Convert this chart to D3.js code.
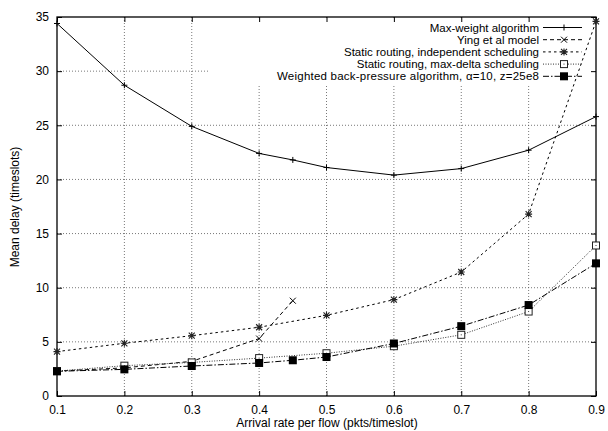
<!DOCTYPE html>
<html><head><meta charset="utf-8">
<script src="https://cdn.jsdelivr.net/npm/d3@7/dist/d3.min.js"></script>
<style>body{margin:0;background:#fff}svg{display:block}text{font-family:"Liberation Sans",Arial,sans-serif;fill:#000}</style>
</head><body><svg id="c" width="608" height="431"></svg>
<script>
const xTicks = [0.1,0.2,0.3,0.4,0.5,0.6,0.7,0.8,0.9];
const yTicks = [0,5,10,15,20,25,30,35];
const xMaxWeight = [0.1,0.2,0.3,0.4,0.45,0.5,0.6,0.7,0.8,0.9];
const maxWeight = [34.4,28.7,24.9,22.4,21.8,21.1,20.4,21.0,22.7,25.8];
const xYing = [0.1,0.2,0.3,0.4,0.45];
const ying = [2.3,2.6,3.2,5.3,8.8];
const xStatic = [0.1,0.2,0.3,0.4,0.5,0.6,0.7,0.8,0.9];
const staticIndep = [4.1,4.87,5.57,6.35,7.45,8.9,11.45,16.8,34.6];
const staticMaxDelta = [2.3,2.8,3.1,3.5,3.95,4.6,5.65,7.8,13.9];
const xWeighted = [0.1,0.2,0.3,0.4,0.45,0.5,0.6,0.7,0.8,0.9];
const weighted = [2.28,2.46,2.77,3.05,3.3,3.6,4.85,6.45,8.4,12.25];
const names = ["Max-weight algorithm","Ying et al model","Static routing, independent scheduling","Static routing, max-delta scheduling","Weighted back-pressure algorithm, \u03b1=10, z=25e8"];

const FS = 12, LFS = 11.5;
const svg = d3.select("#c");
const L=57,R=596,T=17,B=396;
const x = d3.scaleLinear().domain([0.1,0.9]).range([L,R]);
const y = d3.scaleLinear().domain([0,35]).range([B,T]);

// grid
const g = svg.append("g");
g.selectAll(".gx").data(xTicks.slice(1,-1)).enter().append("line")
 .attr("x1",d=>x(d)).attr("x2",d=>x(d)).attr("y1",B).attr("y2",T)
 .attr("stroke","#555").attr("stroke-width",0.8).attr("stroke-dasharray","1,2");
g.selectAll(".gy").data(yTicks.slice(1,-1)).enter().append("line")
 .attr("x1",L).attr("x2",R).attr("y1",d=>y(d)).attr("y2",d=>y(d))
 .attr("stroke","#555").attr("stroke-width",0.8).attr("stroke-dasharray","1,2");
// legend background clears grid
svg.append("rect").attr("x",209).attr("y",T+1).attr("width",R-209).attr("height",84-T).attr("fill","#fff");

// axes
const xAxisB = d3.axisBottom(x).tickValues(xTicks).tickFormat(d3.format(".1f")).tickSize(-5).tickPadding(9);
const xAxisT = d3.axisTop(x).tickValues(xTicks).tickFormat("").tickSize(-5);
const yAxisL = d3.axisLeft(y).tickValues(yTicks).tickFormat(d3.format("d")).tickSize(-5).tickPadding(8);
const yAxisR = d3.axisRight(y).tickValues(yTicks).tickFormat("").tickSize(-5);
function styleAx(sel){sel.select(".domain").remove();sel.selectAll("line").attr("stroke","#000");sel.selectAll("text").attr("font-size",FS).attr("font-family",'"Liberation Sans",Arial,sans-serif');}
svg.append("g").attr("transform",`translate(0,${B})`).call(xAxisB).call(styleAx);
svg.append("g").attr("transform",`translate(0,${T})`).call(xAxisT).call(styleAx);
svg.append("g").attr("transform",`translate(${L},0)`).call(yAxisL).call(styleAx);
svg.append("g").attr("transform",`translate(${R},0)`).call(yAxisR).call(styleAx);
svg.append("rect").attr("x",L).attr("y",T).attr("width",R-L).attr("height",B-T).attr("fill","none").attr("stroke","#000").attr("stroke-width",1.3);

// markers
function marker(sel,type,cx,cy){
  const s=sel.append("g").attr("transform",`translate(${cx},${cy})`);
  if(type==="plus"){s.append("path").attr("d","M-3,0H3M0,-3V3").attr("stroke","#000").attr("stroke-width",1);}
  else if(type==="x"){s.append("path").attr("d","M-3,-3L3,3M-3,3L3,-3").attr("stroke","#000").attr("stroke-width",1);}
  else if(type==="star"){s.append("path").attr("d","M-3,-3L3,3M-3,3L3,-3M-3.5,0H3.5M0,-3.5V3.5").attr("stroke","#222").attr("stroke-width",1.1);}
  else if(type==="box"){s.append("rect").attr("x",-3.5).attr("y",-3.5).attr("width",7).attr("height",7).attr("fill","#fff").attr("stroke","#222").attr("stroke-width",1);
    s.append("rect").attr("x",-0.5).attr("y",-0.5).attr("width",1).attr("height",1).attr("fill","#333");}
  else if(type==="fbox"){s.append("rect").attr("x",-4).attr("y",-4).attr("width",8).attr("height",8).attr("fill","#000");}
}
const series=[
 {xs:xMaxWeight,ys:maxWeight,dash:null,m:"plus",c:"#000"},
 {xs:xYing,ys:ying,dash:"4,3",m:"x",c:"#000"},
 {xs:xStatic,ys:staticIndep,dash:"2.5,3",m:"star",c:"#000"},
 {xs:xStatic,ys:staticMaxDelta,dash:"1,1.5",m:"box",c:"#333"},
 {xs:xWeighted,ys:weighted,dash:"6,2,1.5,2",m:"fbox",c:"#000"}
];
const line=d3.line().x(d=>x(d[0])).y(d=>y(d[1]));
series.forEach((s,i)=>{
  const pts=s.xs.map((v,j)=>[v,s.ys[j]]);
  const p=svg.append("path").attr("d",line(pts)).attr("fill","none").attr("stroke",s.c).attr("stroke-width",1);
  if(s.dash)p.attr("stroke-dasharray",s.dash);
  pts.forEach(d=>marker(svg,s.m,x(d[0]),y(d[1])));
  // legend
  const ly=27.5+12.2*i;
  const t=svg.append("text").attr("x",539).attr("y",ly).attr("dy","0.35em").attr("text-anchor","end").attr("font-size",LFS).text(names[i]);
  if(i===4)t.attr("textLength",262).attr("lengthAdjust","spacing");
  const lp=svg.append("line").attr("x1",543).attr("x2",582).attr("y1",ly).attr("y2",ly).attr("stroke",s.c).attr("stroke-width",1);
  if(s.dash)lp.attr("stroke-dasharray",s.dash);
  marker(svg,s.m,564,ly);
});

svg.append("text").attr("x",327).attr("y",427).attr("text-anchor","middle").attr("font-size",FS).text("Arrival rate per flow (pkts/timeslot)");
svg.append("text").attr("transform","translate(19,207) rotate(-90)").attr("text-anchor","middle").attr("font-size",FS).text("Mean delay (timeslots)");
</script></body></html>
